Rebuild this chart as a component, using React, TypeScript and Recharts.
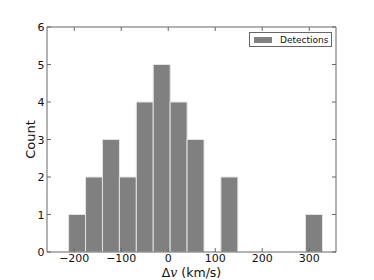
import React from 'react'
import { BarChart, Bar, XAxis, YAxis, Legend } from 'recharts'

// histogram bins (centres, km/s) and counts
const binCenters = [-194, -158, -122, -86, -50, -14, 22, 58, 94, 130, 166, 202, 238, 274, 310]
const counts = [1, 2, 3, 2, 4, 5, 4, 3, 0, 2, 0, 0, 0, 0, 1]
const xTicks = [-200, -100, 0, 100, 200, 300]
const yTicks = [0, 1, 2, 3, 4, 5, 6]
const xDomain = [-258, 357]

const data = binCenters.map((v, i) => ({ v, count: counts[i] }))

const FONT = 'DejaVu Sans, sans-serif'
const FRAME = '#666'
const TICK_LEN = 4

function BottomTick({ x, y, payload }: any) {
  return (
    <g>
      <line x1={x} y1={y} x2={x} y2={y - TICK_LEN} stroke={FRAME} />
      <text x={x} y={y + 10.3} textAnchor="middle" fontSize={11} fontFamily={FONT} fill="#111">
        {payload.value < 0 ? `\u2212${Math.abs(payload.value)}` : payload.value}
      </text>
    </g>
  )
}

function TopTick({ x, y }: any) {
  return <line x1={x} y1={y} x2={x} y2={y + TICK_LEN} stroke={FRAME} />
}

function LeftTick({ x, y, payload }: any) {
  return (
    <g>
      <line x1={x} y1={y} x2={x + TICK_LEN} y2={y} stroke={FRAME} />
      <text x={x - 2.5} y={y + 4} textAnchor="end" fontSize={11} fontFamily={FONT} fill="#111">
        {payload.value}
      </text>
    </g>
  )
}

function RightTick({ x, y }: any) {
  return <line x1={x} y1={y} x2={x - TICK_LEN} y2={y} stroke={FRAME} />
}

function XLabel({ viewBox }: any) {
  const { x, y, width } = viewBox
  return (
    <text x={x + width / 2} y={y + 25} textAnchor="middle" fontSize={12.5} fontFamily={FONT} fill="#111">
      <tspan>Δ</tspan>
      <tspan fontFamily="DejaVu Serif, serif" fontStyle="italic">v</tspan>
      <tspan> (km/s)</tspan>
    </text>
  )
}

function YLabel({ viewBox }: any) {
  const { x, y, height } = viewBox
  const cx = x + 35
  const cy = y + height / 2
  return (
    <text x={cx} y={cy} transform={`rotate(-90 ${cx} ${cy})`} textAnchor="middle" fontSize={13} fontFamily={FONT} fill="#111">
      Count
    </text>
  )
}

function LegendBox() {
  return (
    <div
      style={{
        width: 81,
        height: 13,
        border: `1px solid ${FRAME}`,
        background: '#fff',
        display: 'flex',
        alignItems: 'center',
        fontFamily: FONT,
        fontSize: 9,
        color: '#111',
      }}
    >
      <span style={{ display: 'inline-block', width: 18, height: 6, background: '#808080', marginLeft: 4, marginRight: 8 }} />
      <span>Detections</span>
    </div>
  )
}

export default function App() {
  return (
    <div style={{ position: 'absolute', left: 0, top: 0, background: '#fff' }}>
      <BarChart
        width={374}
        height={280}
        data={data}
        margin={{ top: 26, right: 37, bottom: 0, left: 0 }}
        barCategoryGap={0}
        barGap={0}
      >
        <XAxis
          dataKey="v"
          type="number"
          domain={xDomain}
          ticks={xTicks}
          interval={0}
          allowDataOverflow
          height={28}
          tickSize={0}
          tickMargin={0}
          tickLine={false}
          tick={<BottomTick />}
          axisLine={{ stroke: FRAME }}
          label={<XLabel />}
        />
        <XAxis
          xAxisId="top"
          orientation="top"
          dataKey="v"
          type="number"
          domain={xDomain}
          ticks={xTicks}
          interval={0}
          allowDataOverflow
          height={1}
          tickSize={0}
          tickMargin={0}
          tickLine={false}
          tick={<TopTick />}
          axisLine={{ stroke: FRAME }}
        />
        <YAxis
          type="number"
          domain={[0, 6]}
          ticks={yTicks}
          interval={0}
          allowDataOverflow
          width={47}
          tickSize={0}
          tickMargin={0}
          tickLine={false}
          tick={<LeftTick />}
          axisLine={{ stroke: FRAME }}
          label={<YLabel />}
        />
        <YAxis
          yAxisId="right"
          orientation="right"
          type="number"
          domain={[0, 6]}
          ticks={yTicks}
          interval={0}
          allowDataOverflow
          width={1}
          tickSize={0}
          tickMargin={0}
          tickLine={false}
          tick={<RightTick />}
          axisLine={{ stroke: FRAME }}
        />
        <Legend
          layout="horizontal"
          verticalAlign="middle"
          align="center"
          content={<LegendBox />}
          wrapperStyle={{ position: 'absolute', top: 32, left: 249, width: 'auto', height: 'auto' }}
        />
        <Bar
          dataKey="count"
          name="Detections"
          fill="#808080"
          stroke="#e4e4e4"
          strokeWidth={1}
          isAnimationActive={false}
        />
        {/* transparent copy so the top/right frame axes get a domain */}
        <Bar
          dataKey="count"
          xAxisId="top"
          yAxisId="right"
          fill="none"
          stroke="none"
          legendType="none"
          isAnimationActive={false}
        />
      </BarChart>
    </div>
  )
}
